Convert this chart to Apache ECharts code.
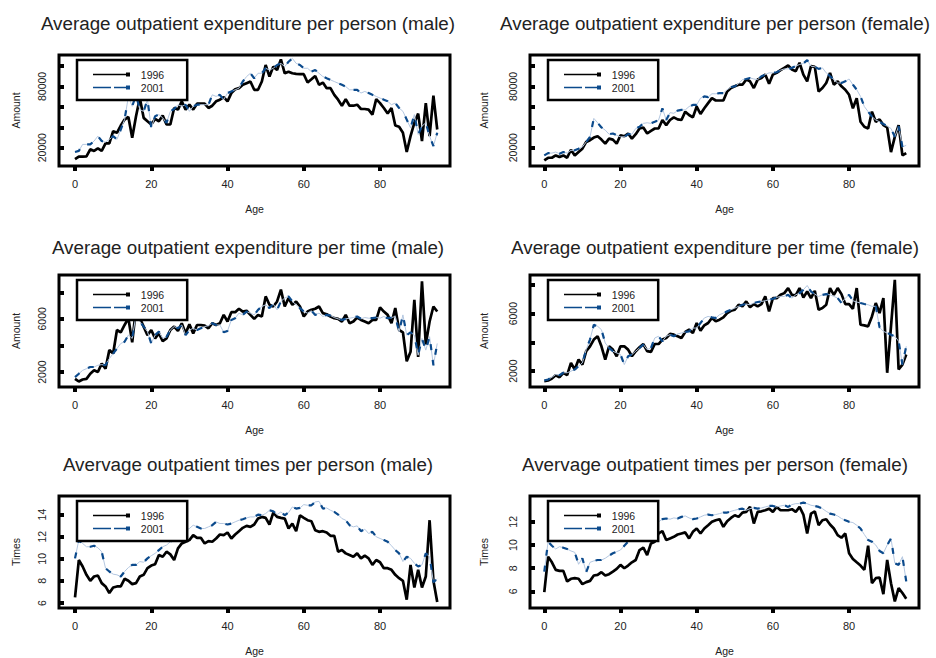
<!DOCTYPE html>
<html><head><meta charset="utf-8">
<script src="https://cdn.jsdelivr.net/npm/echarts@6/dist/echarts.min.js"></script>
<style>html,body{margin:0;padding:0;background:#fff}#c{width:936px;height:658px}</style>
</head><body><div id="c"></div>
<script>
// ---------------- DATA ----------------
const ages = [0,1,2,3,4,5,6,7,8,9,10,11,12,13,14,15,16,17,18,19,20,21,22,23,24,25,26,27,28,29,30,31,32,33,34,35,36,37,38,39,40,41,42,43,44,45,46,47,48,49,50,51,52,53,54,55,56,57,58,59,60,61,62,63,64,65,66,67,68,69,70,71,72,73,74,75,76,77,78,79,80,81,82,83,84,85,86,87,88,89,90,91,92,93,94,95];

const titles = [
  'Average outpatient expenditure per person (male)',
  'Average outpatient expenditure per person (female)',
  'Average outpatient expenditure per time (male)',
  'Average outpatient expenditure per time (female)',
  'Avervage outpatient times per person (male)',
  'Avervage outpatient times per person (female)'
];
const seriesNames = ['1996', '2001'];
const xName = 'Age';
const yNames = ['Amount', 'Amount', 'Amount', 'Amount', 'Times', 'Times'];

const xTicks = [0, 20, 40, 60, 80];
const yTicksPerson = [20000, 40000, 60000, 80000, 100000];
const yLabelsPerson = [20000, 80000];
const yTicksTime = [2000, 4000, 6000, 8000];
const yLabelsTime = [2000, 6000];
const yTicksTimesMale = [6, 8, 10, 12, 14];
const yTicksTimesFemale = [6, 8, 10, 12];

// Average outpatient expenditure per person (male)
const malePerson1996 = [8700,11200,11200,11500,18400,16800,19300,16800,24200,24200,36200,34600,41700,47500,50100,29700,50800,68600,49200,45900,42700,48200,45900,51400,42700,42700,58900,57300,65400,57300,62100,57300,63100,63100,63100,58900,61100,65400,67000,69600,65400,73500,77300,78300,81600,83200,84800,76700,76700,84800,101000,89700,99400,96100,106500,92900,94500,92900,92300,92000,92000,83800,87000,90300,81600,83800,78300,78300,71800,67000,61100,67600,61100,61100,62100,57900,57900,57300,52400,67600,63700,58900,53400,58900,41700,40400,34600,15800,31300,44300,53400,26500,63700,31300,70900,37800];
const malePerson2001 = [15800,16800,23200,23200,23200,26500,31300,26500,25500,28100,31300,28100,37800,47500,70200,60500,71800,57300,55600,67000,39400,50800,52400,49200,44300,55600,57900,62100,60500,62100,55600,60500,62100,62100,62100,62100,71800,70200,71800,67000,73500,75100,76700,78300,84800,89700,92900,88000,92900,92900,97800,96100,97800,101000,102600,99400,104200,107500,102600,101000,97800,97800,94500,96100,92900,89700,88000,86400,84800,83200,81600,79900,76700,76700,76700,73500,75100,73500,71800,70200,68600,67000,65400,62100,63700,58900,55600,47500,39400,52400,33000,41100,44300,31300,21600,34600];

// Average outpatient expenditure per person (female)
const femalePerson1996 = [7500,10100,10100,12400,10800,12400,10100,18000,12400,15700,19000,25600,27300,29900,31200,27900,24000,28900,27900,24000,32200,31200,33900,28900,33200,38800,39800,33900,36500,38800,38800,47100,42100,47100,49700,47700,47100,55300,52000,49700,60300,53000,58600,63600,68500,66200,66200,66200,75100,78400,80100,81700,81700,86700,85000,78400,86700,88300,91600,82700,91600,93300,95900,98200,100500,96600,94900,103200,91600,85000,99900,99200,75100,78400,83400,93300,81700,85000,80100,76800,71800,58600,68500,45400,40500,38800,55300,45400,47700,42100,39800,15700,30600,42100,12400,14700];
const femalePerson2001 = [12400,14700,14700,15700,14100,15700,14700,17400,17400,19000,20700,25600,30600,48700,44400,39800,37200,33200,33900,32200,30600,30600,33200,33200,38800,40500,43800,44400,43800,45400,47100,58600,47100,54300,53700,56300,57000,57000,60300,61900,61900,68500,70200,69500,72800,72800,73500,73500,76800,79400,80100,82700,86700,87300,88300,87300,86700,90000,91600,93300,93300,93900,95900,97200,97200,98200,99900,101500,102500,105800,99900,99200,97200,98200,93300,90000,86700,83400,83400,85000,87300,81700,76800,70200,60300,55300,50400,47100,45400,43100,41100,38800,30600,41100,20700,22300];

// Average outpatient expenditure per time (male)
const maleTime1996 = [1490,1290,1440,1490,1870,2130,2000,2630,2250,3650,3390,5160,4990,5540,6050,4230,6810,6050,5420,4780,5160,4530,4910,4330,4530,5160,5420,5090,5670,4910,5590,4910,5540,5540,5490,5290,5670,5540,5670,6300,5800,6500,6500,6760,6550,6610,6300,6000,6300,6180,7690,7060,6930,7310,8200,6930,7570,7060,7310,6930,6180,6550,6680,6760,6930,6430,6350,6180,6050,6000,5800,6300,5670,5800,6100,5920,5800,5670,5920,5920,6860,6550,6300,5670,6810,5160,4990,2810,3520,7440,3140,8830,4080,5800,6930,6550];
const maleTime2001 = [1620,1870,2130,2250,2380,2380,2510,2560,2510,3010,3390,3770,4150,4280,4780,4530,6300,5800,5420,5040,4150,4780,5040,4530,4660,5160,5420,5290,5540,4780,5160,5290,5160,5290,5420,5490,5670,5540,5540,4990,5090,5920,6050,6430,6300,6550,6430,6300,6680,6930,7060,6810,7110,6680,7310,7570,7690,7310,7060,6810,6550,6430,6610,6300,6430,6180,6300,6250,6100,6000,5920,6000,6050,6100,6180,6000,6100,6050,6050,6100,6050,6180,6050,6100,6180,5040,6300,4780,4990,4780,3270,4530,3650,4660,2510,4150];

// Average outpatient expenditure per time (female)
const femaleTime1996 = [1310,1350,1490,1720,1580,1890,1720,2580,2120,2810,2460,3390,3730,4200,4430,3730,2810,3730,3500,3040,3730,3730,3500,3040,3390,3660,3890,3390,3340,3890,3890,4200,4310,4590,4540,4430,4310,4730,4890,4660,5350,4820,5190,5350,5700,5470,5580,5740,6040,6200,6270,6620,6510,6850,6440,6670,6510,6670,7200,6160,7080,7080,7310,7430,7780,7310,7270,7780,7130,7540,7080,7590,6270,6390,6620,7780,7310,7780,7360,6670,6670,6340,7780,5230,5190,5120,5810,6740,6040,7080,1890,5120,8350,2120,2460,3160];
const femaleTime2001 = [1350,1420,1580,1770,1720,1890,1890,2000,2120,2350,2580,3500,4200,5230,5120,4890,3960,3620,3390,3270,3160,2460,3040,3160,3390,3620,3850,3500,3620,4310,4430,4080,4430,4540,4430,4590,4660,4730,4770,5000,5000,5350,5700,5810,5740,5700,5930,6040,6160,6270,6390,6510,6620,6670,6620,6740,6810,6850,6900,6970,7040,7130,7200,7200,7310,7080,7310,7430,7660,7960,7540,7360,7200,7310,7360,7310,7200,7080,6740,7080,7310,6900,6810,6740,6670,6620,6510,6510,5050,4770,4660,4540,4430,4080,2460,3730];

// Avervage outpatient times per person (male)
const maleTimes1996 = [6.51,9.89,9.30,8.55,8.01,8.40,8.49,7.80,7.50,6.90,7.41,7.50,7.50,8.19,8.01,7.71,7.80,8.40,8.55,9.15,9.39,9.51,10.34,10.19,10.64,10.40,9.89,10.94,11.39,11.54,11.69,12.14,11.90,11.90,11.39,11.60,11.54,11.84,12.20,12.14,12.38,11.84,12.20,12.50,12.80,12.98,12.89,13.10,13.64,13.79,13.70,13.10,14.18,13.79,13.70,13.64,12.74,13.19,12.50,13.94,13.70,13.49,13.40,12.59,12.44,12.50,12.38,12.08,12.08,10.64,10.79,10.49,10.34,10.19,10.49,10.04,10.28,10.04,9.45,9.89,9.69,9.15,9.15,9.00,8.55,8.25,8.01,6.30,9.45,7.41,9.00,7.41,8.40,13.49,8.01,6.09];
const maleTimes2001 = [10.04,11.69,11.39,11.09,11.09,11.18,11.00,10.64,9.15,8.85,8.61,8.55,8.40,8.85,9.21,9.45,9.45,9.75,9.69,10.04,10.28,10.49,10.79,11.09,11.24,11.54,11.84,11.99,12.44,12.59,12.74,13.04,12.89,12.74,12.74,12.89,13.04,13.34,13.19,13.19,13.10,13.19,13.34,13.49,13.58,13.70,13.79,13.79,14.00,13.94,14.09,14.39,14.30,14.00,14.24,13.94,14.18,14.69,14.54,14.60,14.90,14.84,14.84,15.14,15.20,14.54,14.60,14.39,14.24,14.00,13.64,13.49,13.04,12.89,12.98,12.50,12.68,12.29,12.44,11.99,11.84,11.69,11.54,11.18,10.79,10.49,9.75,10.19,10.04,9.60,9.30,9.45,10.49,10.19,7.89,8.19];

// Avervage outpatient times per person (female)
const femaleTimes1996 = [5.94,9.00,8.51,7.86,7.77,7.77,6.86,7.09,7.14,7.09,6.63,6.80,6.91,7.37,7.43,7.66,7.37,7.49,7.71,7.94,8.29,8.00,8.23,8.51,8.71,9.57,9.77,9.14,10.14,10.29,11.00,11.20,10.43,10.57,10.71,10.91,11.00,11.09,10.57,11.14,11.43,11.00,11.43,11.71,12.00,12.14,12.23,11.57,12.06,12.34,12.57,12.43,12.80,12.86,13.29,11.86,12.86,12.91,13.00,13.14,12.86,13.29,13.00,13.00,13.00,13.09,12.86,13.29,12.63,11.00,12.71,12.91,11.71,12.14,12.23,11.77,11.43,10.86,10.63,11.00,9.29,8.80,8.51,8.23,7.86,9.94,6.71,7.14,7.20,5.77,8.71,6.71,5.14,6.29,5.86,5.37];
const femaleTimes2001 = [7.71,10.29,9.94,9.66,9.86,9.77,9.66,9.49,9.37,8.34,8.86,7.66,8.51,8.63,8.71,8.71,8.86,9.09,9.29,9.43,9.57,9.94,10.29,10.43,10.57,10.71,10.80,11.00,11.29,11.71,12.00,12.23,12.29,12.23,12.34,12.29,12.43,12.51,12.34,12.23,12.29,12.43,12.57,12.63,12.57,12.63,12.71,12.80,12.80,12.91,13.00,13.09,13.14,13.00,13.14,13.20,13.14,13.20,13.29,13.37,13.37,13.29,13.37,13.43,13.29,13.49,13.57,13.57,13.66,13.57,13.43,13.37,13.29,13.14,12.91,12.71,12.63,12.51,12.29,12.14,12.00,11.94,11.71,11.43,10.91,10.43,10.29,10.00,9.49,9.29,10.00,10.57,8.43,8.29,9.00,6.86];

// ---------------- LAYOUT / STYLE ----------------
const FONT = '"Liberation Sans", Arial, Helvetica, sans-serif';
const TXT = '#222';
const C96 = '#000000';
const C01 = '#0b4a8c';
const C01L = '#b4c7e0';

const cols = [
  {left: 59, width: 391, xmin: -4.2, xmax: 98.35, titleX: 248, nameGap: 38},
  {left: 530, width: 389, xmin: -3.75, xmax: 98.35, titleX: 715, nameGap: 41}
];
const rows = [
  {top: 55, height: 111, titleY: 23},
  {top: 275, height: 112, titleY: 247},
  {top: 496, height: 112, titleY: 464}
];

const panels = [
  {d96: malePerson1996, d01: malePerson2001, col: 0, row: 0, ymin: 2040, ymax: 110800, ticks: yTicksPerson, labels: yLabelsPerson},
  {d96: femalePerson1996, d01: femalePerson2001, col: 1, row: 0, ymin: 2040, ymax: 110800, ticks: yTicksPerson, labels: yLabelsPerson},
  {d96: maleTime1996, d01: maleTime2001, col: 0, row: 1, ymin: 875, ymax: 9300, ticks: yTicksTime, labels: yLabelsTime},
  {d96: femaleTime1996, d01: femaleTime2001, col: 1, row: 1, ymin: 900, ymax: 8690, ticks: yTicksTime, labels: yLabelsTime},
  {d96: maleTimes1996, d01: maleTimes2001, col: 0, row: 2, ymin: 5.55, ymax: 15.68, ticks: yTicksTimesMale, labels: yTicksTimesMale},
  {d96: femaleTimes1996, d01: femaleTimes2001, col: 1, row: 2, ymin: 4.57, ymax: 14.23, ticks: yTicksTimesFemale, labels: yTicksTimesFemale}
];

const ICON96 = 'path://M0,1.25H33V0H37V4H33V2.75H0Z';
const ICON01 = 'path://M0,1.25H18V2.75H0Z M21,1.25H33V0H37V4H33V2.75H21Z';

const grid = [], xAxis = [], yAxis = [], series = [], legend = [], graphic = [];

panels.forEach((p, i) => {
  const c = cols[p.col], r = rows[p.row];
  grid.push({left: c.left, top: r.top, width: c.width, height: r.height, show: true,
    borderColor: '#000', borderWidth: 3, backgroundColor: 'transparent', containLabel: false});
  xAxis.push({gridIndex: i, type: 'value', min: c.xmin, max: c.xmax,
    axisLine: {show: false, onZero: false},
    axisTick: {show: true, customValues: xTicks, length: 5, lineStyle: {color: '#000', width: 4}},
    axisLabel: {customValues: xTicks, margin: 12, fontSize: 11, color: TXT, fontFamily: FONT},
    splitLine: {show: false},
    name: xName, nameLocation: 'middle', nameGap: 37,
    nameTextStyle: {fontSize: 10.5, color: TXT, fontFamily: FONT}});
  yAxis.push({gridIndex: i, type: 'value', min: p.ymin, max: p.ymax,
    axisLine: {show: false, onZero: false},
    axisTick: {show: true, inside: true, customValues: p.ticks, length: 5, lineStyle: {color: '#000', width: 4}},
    axisLabel: {customValues: p.labels, rotate: 90, margin: 12, fontSize: 10.5, color: TXT, fontFamily: FONT,
      formatter: v => String(v)},
    splitLine: {show: false},
    name: yNames[i], nameLocation: 'middle', nameGap: c.nameGap, nameRotate: 90,
    nameTextStyle: {fontSize: 10.5, color: TXT, fontFamily: FONT}});
  const d96 = ages.map((a, k) => [a, p.d96[k]]);
  const d01 = ages.map((a, k) => [a, p.d01[k]]);
  series.push({type: 'line', name: seriesNames[0], xAxisIndex: i, yAxisIndex: i, data: d96,
    symbol: 'none', lineStyle: {color: C96, width: 2.7}, itemStyle: {color: C96}, z: 2});
  series.push({type: 'line', name: seriesNames[1], xAxisIndex: i, yAxisIndex: i, data: d01,
    symbol: 'none', lineStyle: {color: C01L, width: 1}, itemStyle: {color: C01}, z: 3});
  series.push({type: 'line', name: seriesNames[1], xAxisIndex: i, yAxisIndex: i, data: d01,
    symbol: 'none', lineStyle: {color: C01, width: 2.2, type: [6, 10]}, itemStyle: {color: C01}, z: 3});
  legend.push({left: c.left + 18, top: r.top + 5, orient: 'vertical', selectedMode: false,
    backgroundColor: '#fff', borderColor: '#000', borderWidth: 2.5, borderRadius: 0,
    padding: [9, 23, 7, 16], itemGap: 2, itemWidth: 37, itemHeight: 4,
    itemStyle: {borderWidth: 0}, lineStyle: {width: 0},
    formatter: n => '  ' + n,
    textStyle: {fontSize: 10.5, color: TXT, fontFamily: FONT},
    data: [
      {name: seriesNames[0], icon: ICON96, itemStyle: {color: C96, borderWidth: 0}},
      {name: seriesNames[1], icon: ICON01, itemStyle: {color: C01, borderWidth: 0}}
    ]});
  graphic.push({type: 'text', x: c.titleX, y: r.titleY, silent: true,
    style: {text: titles[i], fontSize: 18.8, fontFamily: FONT, fill: TXT, align: 'center', verticalAlign: 'middle'}});
});

const chart = echarts.init(document.getElementById('c'), null, {renderer: 'svg'});
chart.setOption({animation: false, backgroundColor: '#fff', grid, xAxis, yAxis, series, legend, graphic});
</script>
</body></html>
